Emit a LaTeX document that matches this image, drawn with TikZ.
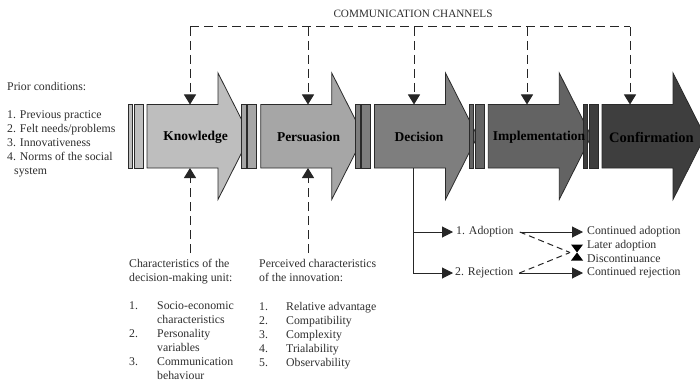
\documentclass[tikz,border=0pt]{standalone}
\usepackage{fontspec}
\setmainfont{Liberation Serif}
\usetikzlibrary{arrows.meta}
\definecolor{cK}{HTML}{BEBEBE}
\definecolor{cP}{HTML}{A6A6A6}
\definecolor{cD}{HTML}{7E7E7E}
\definecolor{cI}{HTML}{636363}
\definecolor{cC}{HTML}{3E3E3E}
\definecolor{edge}{HTML}{2A2A2A}
\definecolor{linec}{HTML}{262626}
\definecolor{txtc}{HTML}{2E2E2E}
\tikzset{
  stagepart/.style={draw=edge, line width=0.8pt, line join=miter},
  stagelabel/.style={font=\fontsize{13.5}{16}\selectfont\bfseries, text=black, inner sep=0},
  txt/.style={font=\fontsize{11.8}{14}\selectfont, text=txtc, inner sep=0, text height=8.5pt, text depth=2.6pt, anchor=west},
  chan/.style={draw=linec, line width=1pt, dash pattern=on 9pt off 5pt},
  solidln/.style={draw=linec, line width=1pt},
  tipA/.style={-{Triangle[width=12pt,length=10pt]}},
  tipB/.style={-{Triangle[width=11pt,length=11pt]}},
}
\newcommand\stagearrow[2]{%
  \draw[stagepart, fill=#2] (#1,104.5) rectangle ++(4.5,63.5);
  \draw[stagepart, fill=#2] (#1+6,104.5) rectangle ++(9,63.5);
  \draw[stagepart, fill=#2] (#1+19,104.5) -- (#1+90,104.5) -- (#1+90,73) -- (#1+122,136.25)
     -- (#1+90,199.5) -- (#1+90,168) -- (#1+19,168) -- cycle;
}
\begin{document}
\begin{tikzpicture}[x=1pt,y=-1pt]
\clip (0,0) rectangle (700,382);
\fill[white] (0,0) rectangle (700,382);

% stage arrows
\stagearrow{128}{cK}
\stagearrow{241.75}{cP}
\stagearrow{355.5}{cD}
\stagearrow{469.25}{cI}
\stagearrow{583}{cC}

\node[stagelabel] (know) at (195.5,137) {Knowledge};
\node[stagelabel] (pers) at (308.5,137) {Persuasion};
\node[stagelabel] (deci) at (419,137) {Decision};
\node[stagelabel] (impl) at (539,137) {Implementation};
\node[stagelabel, font=\fontsize{14.5}{17}\selectfont\bfseries] (conf) at (651.5,137) {Confirmation};

% communication channels
\node[txt, anchor=center, font=\fontsize{11.2}{13}\selectfont] (cc) at (413,15) {COMMUNICATION CHANNELS};
\coordinate (c1) at (190,27);
\coordinate (c2) at (308,27);
\coordinate (c3) at (414,27);
\coordinate (c4) at (527,27);
\coordinate (c5) at (630,27);
\coordinate (t1) at (190,104.5);
\coordinate (t2) at (308,104.5);
\coordinate (t3) at (414,104.5);
\coordinate (t4) at (527,104.5);
\coordinate (t5) at (630,104.5);
\draw[chan] (c1) -- (c5);
\draw[chan, tipA] (c1) -- (t1);
\draw[chan, tipA] (c2) -- (t2);
\draw[chan, tipA] (c3) -- (t3);
\draw[chan, tipA] (c4) -- (t4);
\draw[chan, tipA] (c5) -- (t5);

% prior conditions
\node[txt] (pc0) at (7,88) {Prior conditions:};
\node[txt] (pc1) at (7,116) {1. Previous practice};
\node[txt] (pc2) at (7,130) {2. Felt needs/problems};
\node[txt] (pc3) at (7,144) {3. Innovativeness};
\node[txt] (pc4) at (7,158) {4. Norms of the social};
\node[txt] (pc5) at (14,172) {system};

% decision-making unit
\coordinate (b1) at (190,253);
\coordinate (k-bot) at (190,168);
\draw[chan, tipA] (b1) -- (k-bot);
\node[txt] (du1) at (129,265) {Characteristics of the};
\node[txt] (du2) at (129,279) {decision-making unit:};
\node[txt] (dn1) at (129,307) {1.};
\node[txt] (dt1) at (157,307) {Socio-economic};
\node[txt] (dt1b) at (157,321) {characteristics};
\node[txt] (dn2) at (129,335) {2.};
\node[txt] (dt2) at (157,335) {Personality};
\node[txt] (dt2b) at (157,349) {variables};
\node[txt] (dn3) at (129,363) {3.};
\node[txt] (dt3) at (157,363) {Communication};
\node[txt] (dt3b) at (157,377) {behaviour};

% perceived characteristics
\coordinate (b2) at (308,253);
\coordinate (p-bot) at (308,168);
\draw[chan, tipA] (b2) -- (p-bot);
\node[txt] (pi1) at (259,265) {Perceived characteristics};
\node[txt] (pi2) at (259,279) {of the innovation:};
\node[txt] (pn1) at (259,308) {1.};
\node[txt] (pt1) at (286,308) {Relative advantage};
\node[txt] (pn2) at (259,322) {2.};
\node[txt] (pt2) at (286,322) {Compatibility};
\node[txt] (pn3) at (259,336) {3.};
\node[txt] (pt3) at (286,336) {Complexity};
\node[txt] (pn4) at (259,350) {4.};
\node[txt] (pt4) at (286,350) {Trialability};
\node[txt] (pn5) at (259,364) {5.};
\node[txt] (pt5) at (286,364) {Observability};

% decision outcomes
\coordinate (d-bot) at (413,168);
\coordinate (dj1) at (413,232);
\coordinate (dj2) at (413,273);
\node[txt] (ad) at (456,232) {1. Adoption};
\node[txt] (rej) at (455,273) {2. Rejection};
\node[txt] (cad) at (587,232) {Continued adoption};
\node[txt] (lad) at (587,246) {Later adoption};
\node[txt] (dis) at (587,260) {Discontinuance};
\node[txt] (crej) at (587,273) {Continued rejection};
\draw[solidln] (d-bot) -- (dj2);
\draw[solidln, tipB] (dj1) -- ([xshift=-3pt]ad.west);
\draw[solidln, tipB] (dj2) -- ([xshift=-2pt]rej.west);
\draw[solidln, tipB] ([xshift=6pt]ad.east) -- ([xshift=-4pt]cad.west);
\draw[solidln, tipB] ([xshift=6pt]rej.east) -- ([xshift=-4pt]crej.west);
\coordinate (hg) at (570,252.5);
\draw[chan, dash pattern=on 6pt off 4pt] ([xshift=6pt]ad.east) -- (hg);
\draw[chan, dash pattern=on 6pt off 4pt] ([xshift=6pt]rej.east) -- (hg);
\fill[black] (571,244.5) -- (583,244.5) -- (577,252.5) -- cycle;
\fill[black] (571,260.5) -- (583,260.5) -- (577,252.5) -- cycle;
\end{tikzpicture}
\end{document}
